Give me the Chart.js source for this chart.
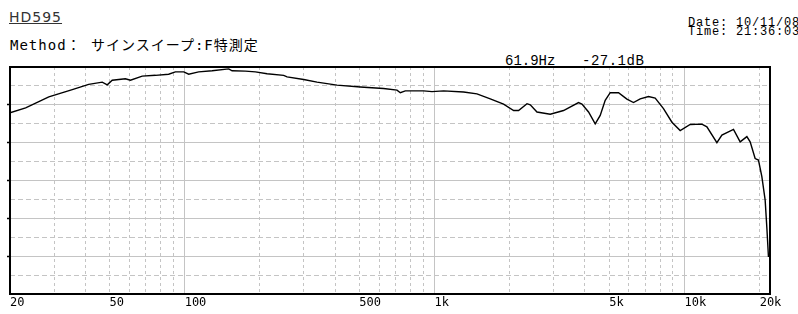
<!DOCTYPE html>
<html lang="ja">
<head>
    <meta charset="UTF-8">
    <title>HD595</title>
    <script src="https://cdn.jsdelivr.net/npm/chart.js@4"></script>
    <style>
        body { margin: 0; background: #fff; width: 798px; height: 314px; overflow: hidden; position: relative; }
        .txt { position: absolute; white-space: pre; color: #000; }
    </style>
</head>
<body>
    <!-- header texts -->
    <div class="txt" style="left: 9px; top: 10px; font: 14px/14px 'DejaVu Sans'; letter-spacing: 1px; color: #333; text-decoration: underline;">HD595</div>
    <div class="txt" style="left: 10px; top: 38px; font: 14px/14px 'DejaVu Sans Mono', 'Noto Sans CJK JP'; letter-spacing: 1px;">Method： サインスイープ:F特測定</div>
    <div class="txt" style="left: 688px; top: 19px; font: 12px/9px 'Liberation Mono'; letter-spacing: 0.8px;">Date: 10/11/08<br>Time: 21:36:03</div>
    <div class="txt" style="left: 505px; top: 54px; font: 14px/14px 'Liberation Mono';">61.9Hz</div>
    <div class="txt" style="left: 582px; top: 54px; font: 14px/14px 'Liberation Mono'; letter-spacing: 0.5px;">-27.1dB</div>

    <canvas id="chart" width="798" height="314" style="position: absolute; left: 0; top: 0;"></canvas>

    <script>
        // frequency response (Hz / dB)
        const freqs = [20, 23.1, 28.6, 35.5, 41.3, 46.8, 49.0, 51.3, 57.9, 60.7, 67.6, 76.4, 86.3, 91.8, 99.2, 103.8, 113.8, 128.8, 150.1, 154.8,
            175, 191.9, 213.7, 249, 257, 299.4, 338.6, 407, 504.6, 625, 707.6, 729.6, 763.9, 903.9, 976.7, 1087, 1307, 1478, 1671, 1889,
            2072, 2169, 2344, 2416, 2570, 2904, 3282, 3768, 3889, 4133, 4395, 4602, 4819, 5047, 5448, 5886, 6254, 6653, 7184, 7638,
            8245, 8911, 9616, 10544, 11746, 12300, 13486, 14122, 15716, 16711, 17776, 18323, 19187, 19780, 20410, 21040, 21380, 21690];
        const levels = [-36.1, -34.8, -31.9, -30.0, -28.6, -28.0, -28.7, -27.5, -27.1, -27.5, -26.4, -26.2, -25.9, -25.3, -25.3, -25.9, -25.3, -25.0, -24.5, -25.0,
            -25.1, -25.3, -25.8, -26.2, -26.6, -27.3, -28.0, -28.8, -29.3, -29.7, -30.1, -30.8, -30.3, -30.3, -30.5, -30.3, -30.6, -31.1, -32.4, -33.8,
            -35.5, -35.5, -33.7, -34.0, -35.9, -36.5, -35.5, -33.4, -33.8, -35.9, -39.0, -36.8, -32.8, -30.8, -30.8, -32.5, -33.4, -32.4, -31.8, -32.2,
            -35.0, -38.6, -40.8, -39.2, -39.1, -39.8, -44.0, -42.0, -40.5, -43.8, -42.4, -43.8, -48.2, -48.6, -53.0, -59.2, -66.7, -74.2];

        // x grid positions and the ones that get a label
        const xTicks = [20, 30, 40, 50, 60, 70, 80, 90, 100, 200, 300, 400, 500, 600, 700, 800, 900,
            1000, 2000, 3000, 4000, 5000, 6000, 7000, 8000, 9000, 10000, 20000];
        const xLabels = { 20: '20', 50: '50', 100: '100', 500: '500', 1000: '1k', 5000: '5k', 10000: '10k', 20000: '20k' };
        const decades = [100, 1000, 10000];

        const yMin = -84, yMax = -24, yStep = 5;

        const points = freqs.map((f, i) => ({ x: f, y: levels[i] }));

        // black frame round the plot area
        const frame = {
            id: 'frame',
            afterDraw(chart) {
                const a = chart.chartArea, c = chart.ctx;
                c.save();
                c.strokeStyle = '#000';
                c.lineWidth = 2;
                c.strokeRect(a.left, a.top, a.right - a.left, a.bottom - a.top);
                c.restore();
            }
        };

        new Chart(document.getElementById('chart'), {
            type: 'line',
            data: {
                datasets: [{
                    data: points,
                    borderColor: '#000',
                    borderWidth: 1.4,
                    pointRadius: 0,
                    tension: 0
                }]
            },
            options: {
                responsive: false,
                animation: false,
                devicePixelRatio: 1,
                layout: { padding: { left: 10, right: 28, top: 67, bottom: 0 } },
                plugins: { legend: { display: false }, tooltip: { enabled: false } },
                scales: {
                    x: {
                        type: 'logarithmic',
                        min: 20,
                        max: 22000,
                        afterBuildTicks: s => { s.ticks = xTicks.map(v => ({ value: v })); },
                        afterFit: s => { s.height = 20; },
                        ticks: {
                            autoSkip: false,
                            maxRotation: 0,
                            minRotation: 0,
                            align: 'start',
                            padding: 2,
                            color: '#000',
                            font: { family: 'DejaVu Sans Mono', size: 12 },
                            callback: v => xLabels[v] || ''
                        },
                        grid: {
                            drawTicks: false,
                            color: '#c4c4c4',
                            lineWidth: 1
                        },
                        border: {
                            display: false,
                            dash: ctx => decades.includes(ctx.tick && ctx.tick.value) ? [] : [3, 3]
                        }
                    },
                    y: {
                        min: yMin,
                        max: yMax,
                        afterFit: s => { s.width = 0; },
                        ticks: { stepSize: yStep, display: false },
                        grid: {
                            drawTicks: true,
                            tickLength: 3,
                            color: '#c4c4c4',
                            tickColor: ctx => (ctx.index % 2 === 0 && ctx.index > 0 && ctx.index < 12) ? '#000' : 'rgba(0,0,0,0)',
                            tickWidth: 1.5
                        },
                        border: {
                            display: false,
                            dash: ctx => ctx.index % 2 === 0 ? [] : [5, 3]
                        }
                    }
                }
            },
            plugins: [frame]
        });
    </script>
</body>
</html>
